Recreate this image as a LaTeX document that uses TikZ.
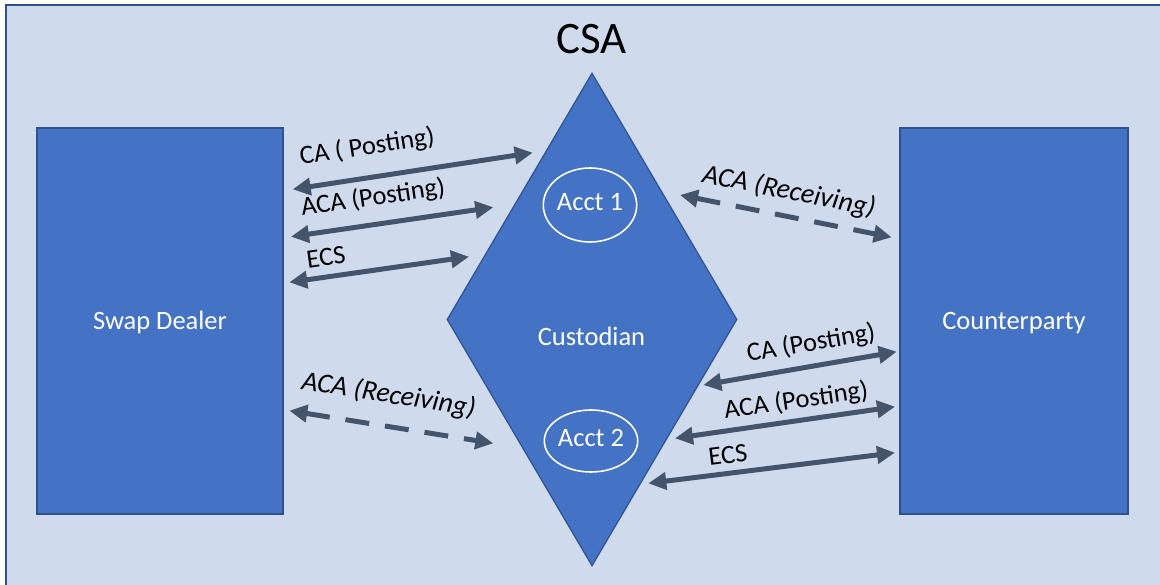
\documentclass[tikz,border=0pt]{standalone}
\usepackage{fontspec}
\setmainfont{Carlito}
\usetikzlibrary{arrows.meta,shapes.geometric}
\definecolor{bgblue}{RGB}{207,219,237}
\definecolor{boxblue}{RGB}{68,114,196}
\definecolor{edgeblue}{RGB}{47,82,143}
\definecolor{arrowgray}{RGB}{68,84,106}
\tikzset{
  box/.style={draw=edgeblue,line width=1.2pt,fill=boxblue,text=white,inner sep=0pt,
    font=\fontsize{26.5}{30}\selectfont,text height=20pt,text depth=3pt},
  custbox/.style={diamond,draw=edgeblue,line width=1.2pt,fill=boxblue,inner sep=0pt,
    minimum width=290pt,minimum height=493pt},
  acct/.style={ellipse,draw=white,line width=1.6pt,inner sep=0pt,text=white,
    font=\fontsize{26.5}{30}\selectfont,text height=14pt,text depth=3pt},
  lbl/.style={font=\fontsize{26.5}{30}\selectfont,anchor=base,inner sep=0pt},
  ilbl/.style={lbl,font=\fontsize{27.8}{31}\selectfont\itshape},
  link/.style={draw=arrowgray,line width=5pt,
    {Triangle[length=18pt,width=17pt]}-{Triangle[length=18pt,width=17pt]}},
  dlink/.style={link,dash pattern=on 24pt off 16pt},
}
\begin{document}
\begin{tikzpicture}[x=1pt,y=-1pt]
\useasboundingbox (0,0) rectangle (1160,585);
\fill[white] (0,0) rectangle (1160,585);
\path[fill=bgblue,draw=edgeblue,line width=1.5pt] (6,5) rectangle (1175,600);

% main shapes
\node[box,minimum width=246pt,minimum height=386pt] (sd) at (160,321) {Swap Dealer};
\node[box,minimum width=228pt,minimum height=386pt] (cp) at (1014,321) {Counterparty};
\node[custbox] (cu) at (592,319.5) {};
\node[lbl,text=white] (cust) at (591.5,346) {Custodian};
\node[acct,minimum width=86pt,minimum height=74pt] (a1) at (590,205) {Acct 1};
\node[acct,minimum width=88pt,minimum height=62pt] (a2) at (591,441) {Acct 2};
\node[lbl,font=\fontsize{45}{50}\selectfont] (csa) at (591.5,54) {CSA};

% arrow end points
\coordinate (l1a) at (292.7,189.3); \coordinate (l1b) at (532.7,152.7);
\coordinate (l2a) at (291,236.7);   \coordinate (l2b) at (493.3,207.3);
\coordinate (l3a) at (289.3,282.3); \coordinate (l3b) at (469,256.7);
\coordinate (l4a) at (289.3,410.7); \coordinate (l4b) at (493.3,443.3);
\coordinate (r1a) at (680,195);     \coordinate (r1b) at (891.7,237.3);
\coordinate (r2a) at (703.3,385);   \coordinate (r2b) at (896.7,351.7);
\coordinate (r3a) at (675,438.3);   \coordinate (r3b) at (895,406.7);
\coordinate (r4a) at (648.3,483.3); \coordinate (r4b) at (895,452.7);

% connectors
\draw[link] (l1a) -- (l1b);
\draw[link] (l2a) -- (l2b);
\draw[link] (l3a) -- (l3b);
\draw[dlink] (l4a) -- (l4b);
\draw[dlink] (r1a) -- (r1b);
\draw[link] (r2a) -- (r2b);
\draw[link] (r3a) -- (r3b);
\draw[link] (r4a) -- (r4b);

% labels
\node[lbl,rotate=8.7] (t1) at (368.3,154.4) {CA ( Posting)};
\node[lbl,rotate=8.3] (t2) at (374.2,205.4) {ACA (Posting)};
\node[lbl,rotate=8.1] (t3) at (327.2,265.4) {ECS};
\node[ilbl,rotate=-9.1] (t4) at (387.5,402.9) {ACA (Receiving)};
\node[ilbl,rotate=-11.3] (t5) at (787.5,199.3) {ACA (Receiving)};
\node[lbl,rotate=9.8] (t6) at (812.4,350.9) {CA (Posting)};
\node[lbl,rotate=8.2] (t7) at (797.2,408.4) {ACA (Posting)};
\node[lbl,rotate=7.1] (t8) at (729,463.4) {ECS};
\end{tikzpicture}
\end{document}
